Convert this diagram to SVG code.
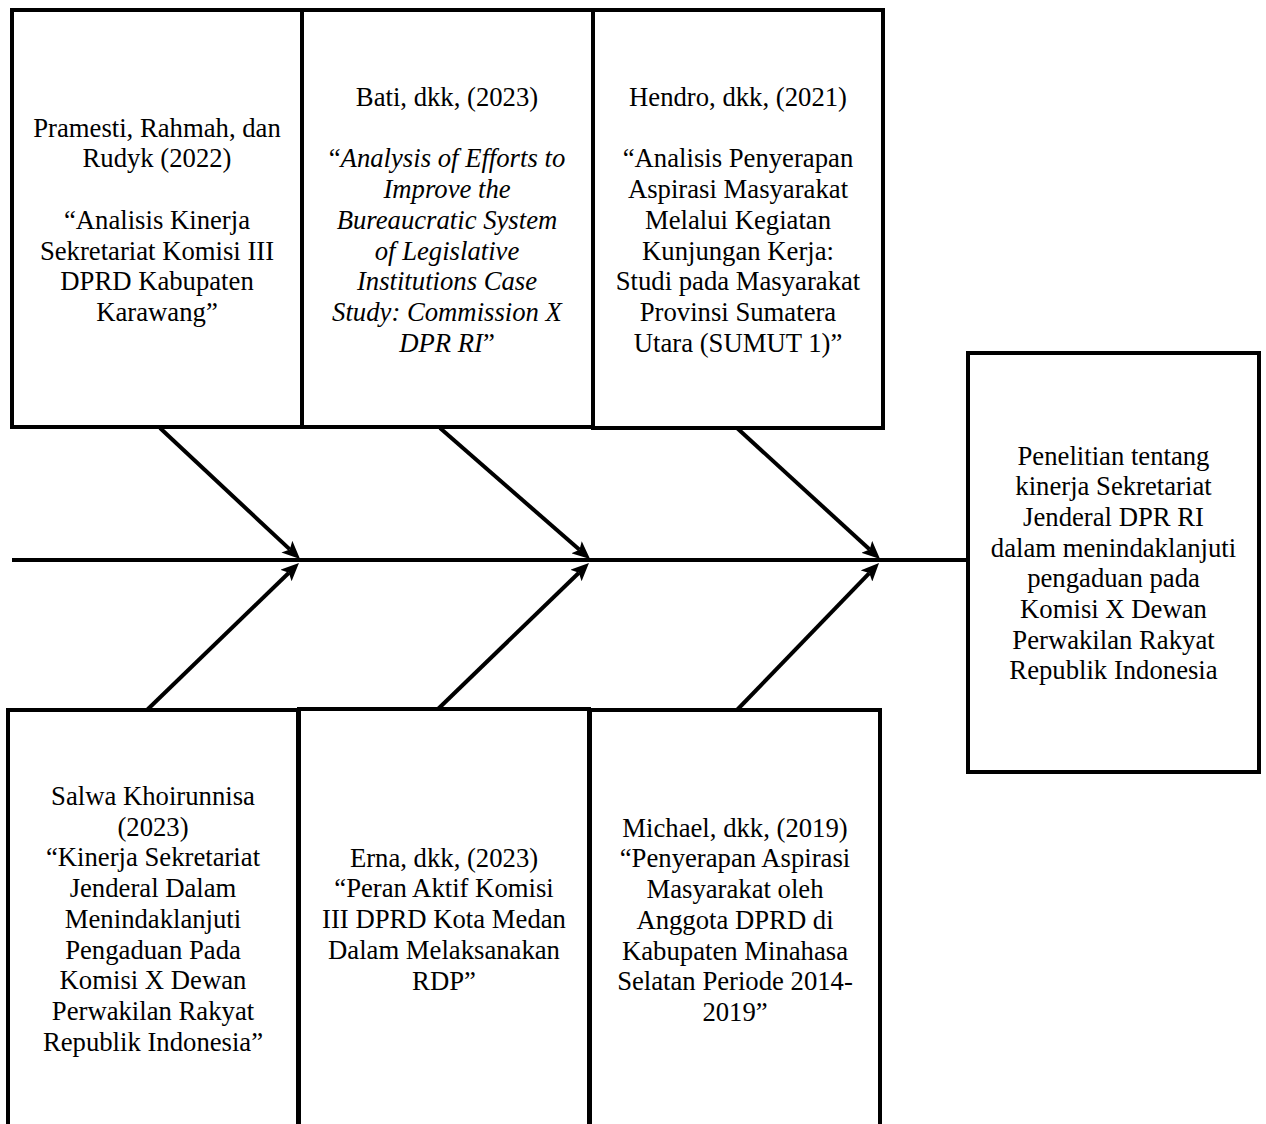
<svg xmlns="http://www.w3.org/2000/svg" width="1266" height="1124" viewBox="0 0 1266 1124">
<style>
.box{fill:#fff;stroke:#000;stroke-width:4}
.t{font-family:"Liberation Serif","Times New Roman",serif;font-size:26.7px;fill:#000;text-anchor:middle}
.i{font-style:italic}
.c{stroke:#000;stroke-width:4;fill:none}
.a{stroke:#000;stroke-width:4;fill:none;marker-end:url(#ah)}
</style>
<defs>
<marker id="ah" viewBox="0 0 18 16" refX="4" refY="8" markerWidth="18" markerHeight="16" markerUnits="userSpaceOnUse" orient="auto">
<path d="M0,0 L18,8 L0,16 L4,8 z" fill="#000"/>
</marker>
</defs>
<rect width="1266" height="1124" fill="#fff"/>
<g id="connectors">
<line class="c" x1="12" y1="560" x2="968" y2="560"/>
<line class="a" x1="160" y1="428" x2="289.8" y2="549.4"/>
<line class="a" x1="147" y1="710" x2="288.9" y2="572.7"/>
<line class="a" x1="440" y1="428" x2="579.5" y2="549.8"/>
<line class="a" x1="437" y1="710" x2="578.9" y2="572.7"/>
<line class="a" x1="737" y1="428" x2="869.7" y2="549.5"/>
<line class="a" x1="737" y1="710" x2="869.3" y2="573.1"/>
</g>
<g id="n1">
<rect class="box" x="12" y="10" width="290" height="417"/>
<text class="t"><tspan x="157" y="136.7">Pramesti, Rahmah, dan</tspan><tspan x="157" y="167.4">Rudyk (2022)</tspan><tspan x="157" y="228.8">“Analisis Kinerja</tspan><tspan x="157" y="259.5">Sekretariat Komisi III</tspan><tspan x="157" y="290.2">DPRD Kabupaten</tspan><tspan x="157" y="320.9">Karawang”</tspan></text>
</g>
<g id="n2">
<rect class="box" x="302" y="10" width="291" height="417"/>
<text class="t"><tspan x="447" y="106">Bati, dkk, (2023)</tspan><tspan x="447" y="167.4">“<tspan class="i">Analysis of Efforts to</tspan></tspan><tspan class="i" x="447" y="198.1">Improve the</tspan><tspan class="i" x="447" y="228.8">Bureaucratic System</tspan><tspan class="i" x="447" y="259.5">of Legislative</tspan><tspan class="i" x="447" y="290.2">Institutions Case</tspan><tspan class="i" x="447" y="320.9">Study: Commission X</tspan><tspan x="447" y="351.6"><tspan class="i">DPR RI</tspan>”</tspan></text>
</g>
<g id="n3">
<rect class="box" x="593" y="10" width="290" height="418"/>
<text class="t"><tspan x="738" y="106">Hendro, dkk, (2021)</tspan><tspan x="738" y="167.4">“Analisis Penyerapan</tspan><tspan x="738" y="198.1">Aspirasi Masyarakat</tspan><tspan x="738" y="228.8">Melalui Kegiatan</tspan><tspan x="738" y="259.5">Kunjungan Kerja:</tspan><tspan x="738" y="290.2">Studi pada Masyarakat</tspan><tspan x="738" y="320.9">Provinsi Sumatera</tspan><tspan x="738" y="351.6">Utara (SUMUT 1)”</tspan></text>
</g>
<g id="n7">
<rect class="box" x="968" y="353" width="291" height="419"/>
<text class="t"><tspan x="1113.5" y="464.5">Penelitian tentang</tspan><tspan x="1113.5" y="495.2">kinerja Sekretariat</tspan><tspan x="1113.5" y="525.9">Jenderal DPR RI</tspan><tspan x="1113.5" y="556.6">dalam menindaklanjuti</tspan><tspan x="1113.5" y="587.3">pengaduan pada</tspan><tspan x="1113.5" y="618">Komisi X Dewan</tspan><tspan x="1113.5" y="648.7">Perwakilan Rakyat</tspan><tspan x="1113.5" y="679.4">Republik Indonesia</tspan></text>
</g>
<g id="n4">
<rect class="box" x="8" y="710" width="290" height="440"/>
<text class="t"><tspan x="153" y="805">Salwa Khoirunnisa</tspan><tspan x="153" y="835.7">(2023)</tspan><tspan x="153" y="866.4">“Kinerja Sekretariat</tspan><tspan x="153" y="897.1">Jenderal Dalam</tspan><tspan x="153" y="927.8">Menindaklanjuti</tspan><tspan x="153" y="958.5">Pengaduan Pada</tspan><tspan x="153" y="989.2">Komisi X Dewan</tspan><tspan x="153" y="1019.9">Perwakilan Rakyat</tspan><tspan x="153" y="1050.6">Republik Indonesia”</tspan></text>
</g>
<g id="n5">
<rect class="box" x="299" y="709" width="290" height="440"/>
<text class="t"><tspan x="444" y="866.7">Erna, dkk, (2023)</tspan><tspan x="444" y="897.4">“Peran Aktif Komisi</tspan><tspan x="444" y="928.1">III DPRD Kota Medan</tspan><tspan x="444" y="958.8">Dalam Melaksanakan</tspan><tspan x="444" y="989.5">RDP”</tspan></text>
</g>
<g id="n6">
<rect class="box" x="590" y="710" width="290" height="440"/>
<text class="t"><tspan x="735" y="836.7">Michael, dkk, (2019)</tspan><tspan x="735" y="867.4">“Penyerapan Aspirasi</tspan><tspan x="735" y="898.1">Masyarakat oleh</tspan><tspan x="735" y="928.8">Anggota DPRD di</tspan><tspan x="735" y="959.5">Kabupaten Minahasa</tspan><tspan x="735" y="990.2">Selatan Periode 2014-</tspan><tspan x="735" y="1020.9">2019”</tspan></text>
</g>
</svg>
